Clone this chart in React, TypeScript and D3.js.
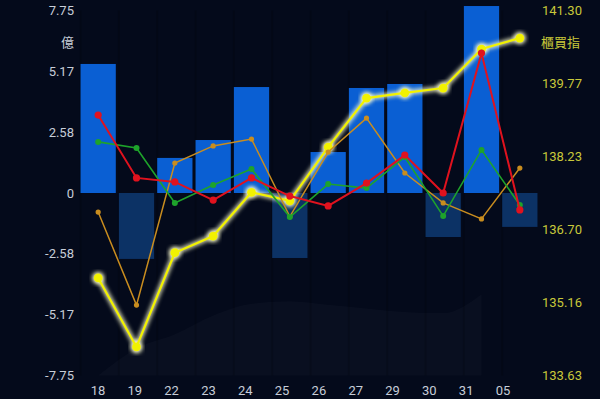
import React from "react";
import * as d3 from "d3";

const categories = ["18", "19", "22", "23", "24", "25", "26", "27", "29", "30", "31", "05"];
const barValues = [5.48, -2.8, 1.49, 2.25, 4.5, -2.76, 1.74, 4.46, 4.63, -1.87, 7.94, -1.44];
const indexValues = [135.68, 134.23, 136.21, 136.56, 137.48, 137.3, 138.43, 139.46, 139.57, 139.67, 140.49, 140.72];
const redValues = [3.31, 0.64, 0.47, -0.3, 0.64, -0.13, -0.55, 0.42, 1.61, 0.0, 5.94, -0.72];
const greenValues = [2.17, 1.91, -0.42, 0.34, 1.02, -1.02, 0.38, 0.21, 1.53, -0.98, 1.83, -0.51];
const orangeValues = [-0.81, -4.76, 1.27, 2.0, 2.29, -1.0, 1.74, 3.18, 0.85, -0.42, -1.1, 1.06];
const shadeValues = [-7.75, -6.6, -6.0, -5.2, -4.7, -4.6, -4.75, -4.9, -5.05, -5.1, -4.3];
const leftTicks = ["7.75", "5.17", "2.58", "0", "-2.58", "-5.17", "-7.75"];
const rightTicks = ["141.30", "139.77", "138.23", "136.70", "135.16", "133.63"];
const leftUnit = "億";
const rightUnit = "櫃買指";

const W = 600;
const H = 399;
const top = 10.5;
const bottom = 375.5;
const left = 79;
const right = 539;

export default function App() {
  const x = d3.scaleBand<string>().domain(categories).range([left, right]).paddingInner(0.08).paddingOuter(0.04);
  const xc = (c: string) => (x(c) as number) + x.bandwidth() / 2;
  const xl = d3.scalePoint<string>().domain(categories).range([98, 503]);
  const yL = d3.scaleLinear().domain([-7.75, 7.75]).range([bottom, top]);
  const yR = d3.scaleLinear().domain([133.63, 141.3]).range([bottom, top]);

  const lineL = d3.line<number>().x((_, i) => xc(categories[i])).y((d) => yL(d));
  const lineR = d3.line<number>().x((_, i) => xc(categories[i])).y((d) => yR(d));
  const area = d3
    .area<number>()
    .x((_, i) => xc(categories[i]))
    .y0(bottom)
    .y1((d) => yL(d))
    .curve(d3.curveMonotoneX);

  const numFont = "Roboto, 'Noto Sans', sans-serif";
  const cjkFont = "'Noto Sans CJK TC', 'Noto Sans CJK SC', sans-serif";

  const series = [
    { vals: orangeValues, color: "#c98d1f", w: 1.5, r: 2.6 },
    { vals: greenValues, color: "#1ea32b", w: 1.6, r: 3 },
    { vals: redValues, color: "#e0121e", w: 2, r: 3.6 },
  ];

  return (
    <svg width={W} height={H} style={{ position: "absolute", left: 0, top: 0, background: "#040a1b" }}>
      <defs>
        <filter id="glow" x="-20%" y="-20%" width="140%" height="140%">
          <feGaussianBlur stdDeviation="2" />
        </filter>
      </defs>
      <rect x={0} y={0} width={W} height={H} fill="#040a1b" />
      <path d={area(shadeValues) || ""} fill="#ffffff" opacity={0.025} />
      {categories.map((c) => (
        <line key={"g" + c} x1={x(c) as number} x2={x(c) as number} y1={top} y2={bottom} stroke="#000000" strokeOpacity={0.15} strokeWidth={2} />
      ))}
      {categories.map((c, i) => {
        const v = barValues[i];
        const y0 = yL(0);
        const y1 = yL(v);
        return (
          <rect
            key={"b" + c}
            x={x(c) as number}
            y={Math.min(y0, y1)}
            width={x.bandwidth()}
            height={Math.abs(y1 - y0)}
            fill={v >= 0 ? "#0a5fd3" : "#0c3265"}
          />
        );
      })}
      <g>
        <path d={lineR(indexValues) || ""} fill="none" stroke="#ffffd0" strokeWidth={4.5} filter="url(#glow)" opacity={0.9} />
        {indexValues.map((v, i) => (
          <circle key={"yg" + i} cx={xc(categories[i])} cy={yR(v)} r={6} fill="#ffffd0" filter="url(#glow)" />
        ))}
        <path d={lineR(indexValues) || ""} fill="none" stroke="#f2f200" strokeWidth={2.2} />
        {indexValues.map((v, i) => (
          <circle key={"y" + i} cx={xc(categories[i])} cy={yR(v)} r={4.4} fill="#f2f200" />
        ))}
      </g>
      {series.map((s, si) => (
        <g key={"s" + si}>
          <path d={lineL(s.vals) || ""} fill="none" stroke={s.color} strokeWidth={s.w} />
          {s.vals.map((v, i) => (
            <circle key={i} cx={xc(categories[i])} cy={yL(v)} r={s.r} fill={s.color} />
          ))}
        </g>
      ))}
      {leftTicks.map((t) => (
        <text key={"l" + t} x={74} y={yL(+t)} dy="0.36em" textAnchor="end" fontSize={13} fontFamily={numFont} fill="#c6cdd8">
          {t}
        </text>
      ))}
      <text x={74} y={42} dy="0.36em" textAnchor="end" fontSize={13} fontFamily={cjkFont} fill="#c6cdd8">
        {leftUnit}
      </text>
      {rightTicks.map((t) => (
        <text key={"r" + t} x={542} y={yR(+t)} dy="0.36em" textAnchor="start" fontSize={13} fontFamily={numFont} fill="#c8c83a">
          {t}
        </text>
      ))}
      <text x={541} y={42} dy="0.36em" textAnchor="start" fontSize={13} fontFamily={cjkFont} fill="#c8c83a">
        {rightUnit}
      </text>
      {categories.map((c) => (
        <text key={"x" + c} x={xl(c) as number} y={390} dy="0.36em" textAnchor="middle" fontSize={13} fontFamily={numFont} fill="#c6cdd8">
          {c}
        </text>
      ))}
    </svg>
  );
}
